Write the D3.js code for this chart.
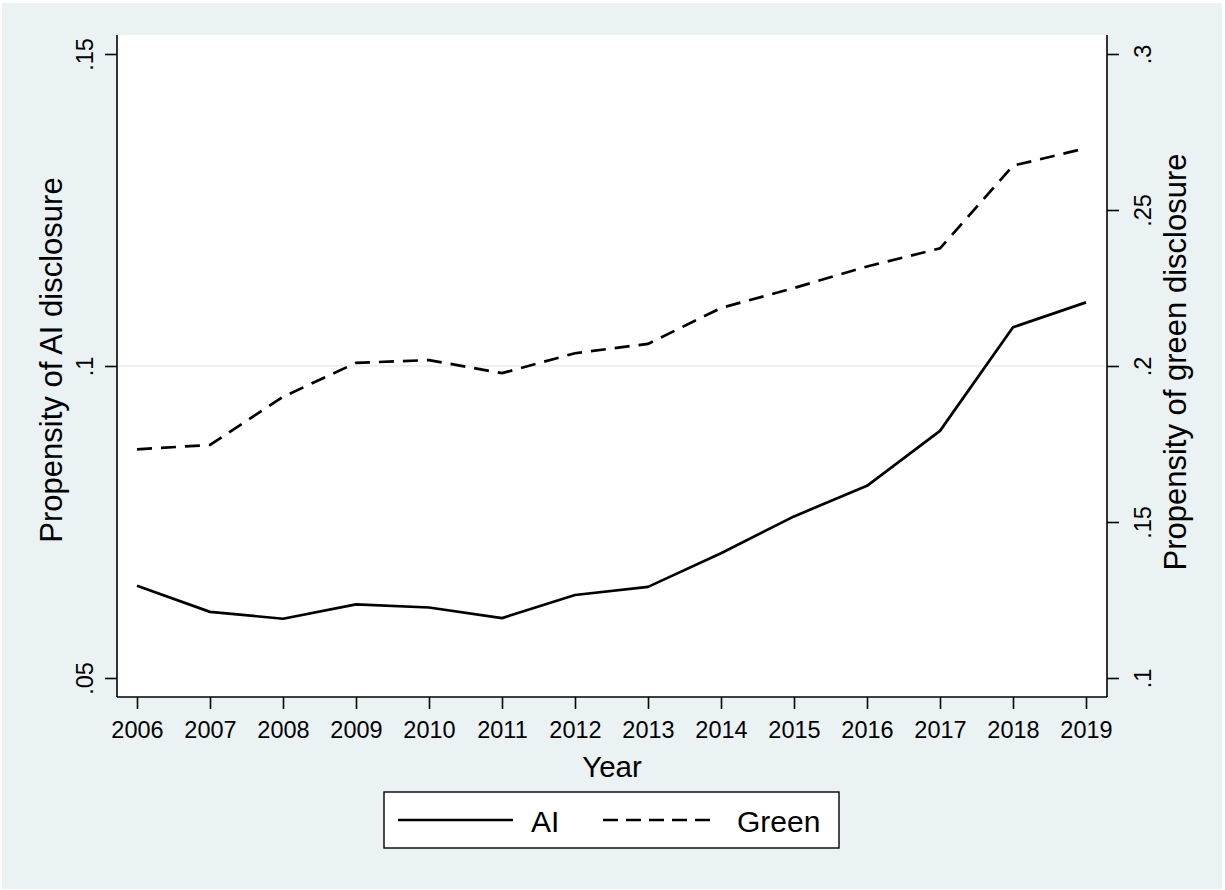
<!DOCTYPE html>
<html>
<head>
<meta charset="utf-8">
<script src="https://cdnjs.cloudflare.com/ajax/libs/d3/7.8.5/d3.min.js"></script>
<style>
	body { margin: 0; background: #ffffff; }
	text { font-family: Arial, "Liberation Sans", sans-serif; fill: #000; }
</style>
</head>
<body>
<div id="chart"></div>
<script>
	// values
	var years = [2006, 2007, 2008, 2009, 2010, 2011, 2012, 2013, 2014, 2015, 2016, 2017, 2018, 2019];
	var aiValues = [0.0648, 0.0606, 0.0595, 0.0618, 0.0613, 0.0596, 0.0633, 0.0646, 0.0700, 0.0759, 0.0808, 0.0896, 0.1062, 0.1102];
	var greenValues = [0.1733, 0.1747, 0.1901, 0.2010, 0.2019, 0.1977, 0.2041, 0.2071, 0.2186, 0.2250, 0.2319, 0.2377, 0.2642, 0.2698];
	var leftTicks = [0.05, 0.1, 0.15];
	var rightTicks = [0.1, 0.15, 0.2, 0.25, 0.3];
	var seriesNames = ["AI", "Green"];

	var w = 1225, h = 890;
	var plot = {left: 117, right: 1107, top: 35, bottom: 697};

	var svg = d3.select("#chart")
		.append("svg")
		.attr("width", w)
		.attr("height", h);

	svg.append("rect")
		.attr("x", 2).attr("y", 3)
		.attr("width", 1220).attr("height", 886)
		.attr("fill", "#eaf2f3");

	svg.append("rect")
		.attr("x", plot.left).attr("y", plot.top)
		.attr("width", plot.right - plot.left)
		.attr("height", plot.bottom - plot.top)
		.attr("fill", "#ffffff");

	var x = d3.scaleLinear().domain([2006, 2019]).range([137, 1086]);
	var yLeft = d3.scaleLinear().domain([0.05, 0.15]).range([678, 54]);
	var yRight = d3.scaleLinear().domain([0.1, 0.3]).range([678, 54]);

	var fmt = function(d) { return String(d).replace(/^0/, ""); };

	// gridline at .1
	svg.append("line")
		.attr("x1", plot.left).attr("x2", plot.right)
		.attr("y1", yLeft(0.1)).attr("y2", yLeft(0.1))
		.attr("stroke", "#eaf2f3")
		.attr("stroke-width", 2);

	var gl = svg.append("g")
		.attr("transform", "translate(" + plot.left + ",0)")
		.call(d3.axisLeft(yLeft).tickValues(leftTicks).tickFormat(fmt).tickSize(12).tickSizeOuter(0));
	gl.select(".domain").attr("d", "M0," + plot.top + "V" + plot.bottom);
	gl.selectAll("text")
		.attr("transform", "translate(-24,0) rotate(-90)")
		.attr("x", 0).attr("y", 0).attr("dy", 0)
		.attr("text-anchor", "middle");

	var gr = svg.append("g")
		.attr("transform", "translate(" + plot.right + ",0)")
		.call(d3.axisRight(yRight).tickValues(rightTicks).tickFormat(fmt).tickSize(12).tickSizeOuter(0));
	gr.select(".domain").attr("d", "M0," + plot.top + "V" + plot.bottom);
	gr.selectAll("text")
		.attr("transform", "translate(44,0) rotate(-90)")
		.attr("x", 0).attr("y", 0).attr("dy", 0)
		.attr("text-anchor", "middle");

	var gx = svg.append("g")
		.attr("transform", "translate(0," + plot.bottom + ")")
		.call(d3.axisBottom(x).tickValues(years).tickFormat(d3.format("d")).tickSize(12).tickSizeOuter(0));
	gx.select(".domain").attr("d", "M" + plot.left + ",0H" + plot.right);
	gx.selectAll("text").attr("y", 0).attr("dy", 41);

	svg.selectAll(".domain").attr("stroke", "#000").attr("stroke-width", 1.6);
	svg.selectAll(".tick line").attr("stroke", "#000").attr("stroke-width", 1.6);
	svg.selectAll(".tick text")
		.style("font-size", "23.5px")
		.style("font-family", "Arial, 'Liberation Sans', sans-serif")
		.attr("fill", "#000");

	// axis titles
	svg.append("text")
		.attr("x", 612).attr("y", 777)
		.attr("text-anchor", "middle")
		.style("font-size", "29.5px")
		.text("Year");

	svg.append("text")
		.attr("transform", "translate(62,360) rotate(-90)")
		.attr("text-anchor", "middle")
		.style("font-size", "31px")
		.text("Propensity of AI disclosure");

	svg.append("text")
		.attr("transform", "translate(1186,362) rotate(-90)")
		.attr("text-anchor", "middle")
		.style("font-size", "31px")
		.text("Propensity of green disclosure");

	// series
	var aiLine = d3.line()
		.x(function(d, i) { return x(years[i]); })
		.y(function(d) { return yLeft(d); });
	var greenLine = d3.line()
		.x(function(d, i) { return x(years[i]); })
		.y(function(d) { return yRight(d); });

	svg.append("path")
		.datum(aiValues)
		.attr("d", aiLine)
		.attr("fill", "none")
		.attr("stroke", "#000")
		.attr("stroke-width", 2.7)
		.attr("stroke-linejoin", "round");

	svg.append("path")
		.datum(greenValues)
		.attr("d", greenLine)
		.attr("fill", "none")
		.attr("stroke", "#000")
		.attr("stroke-width", 2.7)
		.attr("stroke-dasharray", "15,9");

	// legend
	var lg = svg.append("g");
	lg.append("rect")
		.attr("x", 384).attr("y", 792)
		.attr("width", 455).attr("height", 56)
		.attr("fill", "#fff")
		.attr("stroke", "#000")
		.attr("stroke-width", 1.4);
	lg.append("line")
		.attr("x1", 398).attr("x2", 513).attr("y1", 820).attr("y2", 820)
		.attr("stroke", "#000").attr("stroke-width", 2.7);
	lg.append("line")
		.attr("x1", 603).attr("x2", 718).attr("y1", 820).attr("y2", 820)
		.attr("stroke", "#000").attr("stroke-width", 2.7)
		.attr("stroke-dasharray", "15,8");
	lg.append("text")
		.attr("x", 531).attr("y", 832)
		.style("font-size", "30px")
		.text(seriesNames[0]);
	lg.append("text")
		.attr("x", 737).attr("y", 832)
		.style("font-size", "30px")
		.text(seriesNames[1]);
</script>
</body>
</html>
